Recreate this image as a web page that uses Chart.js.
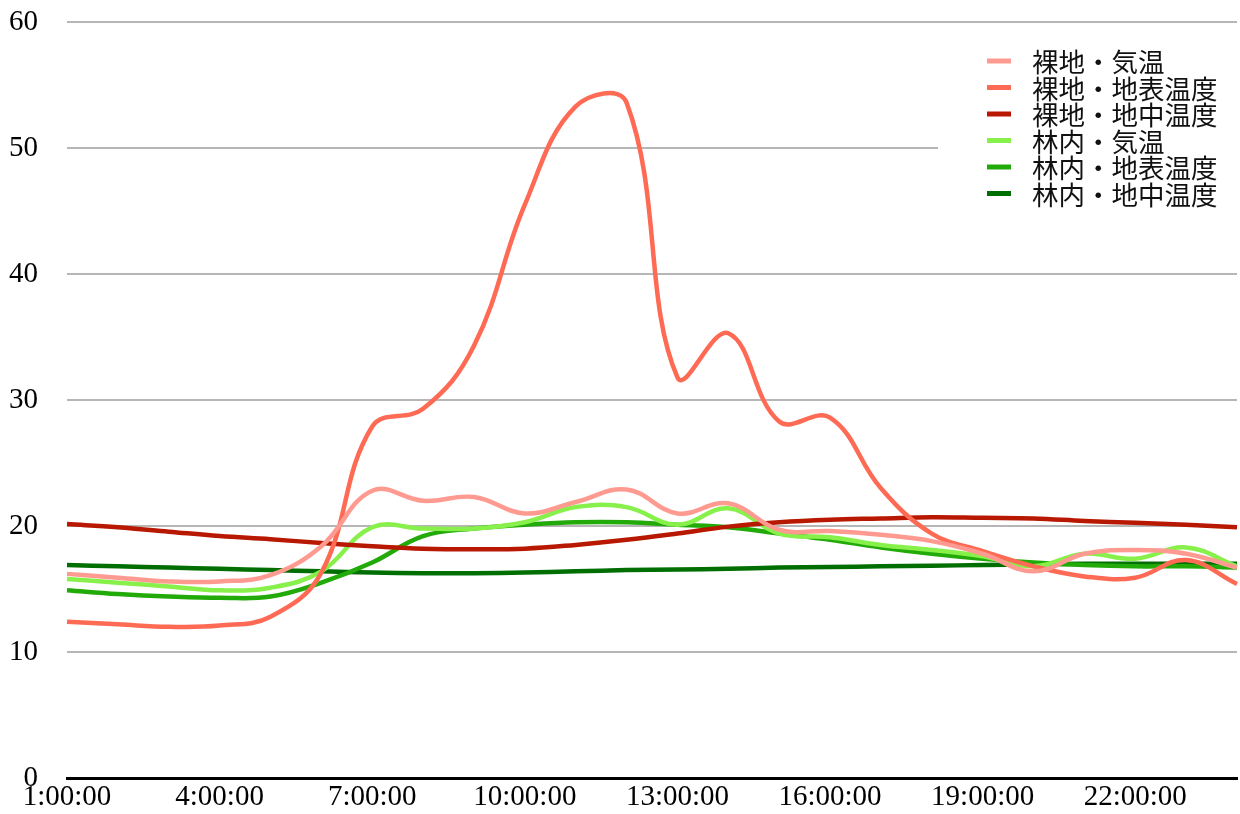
<!DOCTYPE html>
<html lang="ja">
<head>
<meta charset="UTF-8">
<title>裸地と林内の温度</title>
<script src="https://cdn.jsdelivr.net/npm/chart.js@4.4.1/dist/chart.umd.min.js"></script>
<style>
  html, body { margin: 0; padding: 0; background: #fff; }
  #wrap { width: 1240px; height: 814px; }
</style>
</head>
<body>
<div id="wrap"><canvas id="chart1" width="1240" height="814"></canvas></div>
<script>
// hourly readings
var hours = ['1:00:00','2:00:00','3:00:00','4:00:00','5:00:00','6:00:00','7:00:00','8:00:00',
             '9:00:00','10:00:00','11:00:00','12:00:00','13:00:00','14:00:00','15:00:00','16:00:00',
             '17:00:00','18:00:00','19:00:00','20:00:00','21:00:00','22:00:00','23:00:00','0:00:00'];

var bareAir     = [16.2, 15.9, 15.6, 15.6, 16.1, 18.4, 22.8, 22.0, 22.3, 21.0, 21.9, 22.9,
                   21.0, 21.8, 19.7, 19.6, 19.3, 18.8, 17.8, 16.4, 17.8, 18.1, 17.8, 16.7];
var bareSurface = [12.4, 12.2, 12.0, 12.1, 12.8, 16.3, 27.9, 29.3, 34.3, 45.5, 53.3, 53.6,
                   31.8, 35.3, 28.3, 28.6, 23.0, 19.4, 18.0, 16.8, 16.0, 15.9, 17.3, 15.4];
var bareSoil    = [20.15, 19.9, 19.55, 19.2, 18.95, 18.65, 18.4, 18.2, 18.15, 18.2, 18.5, 18.9,
                   19.4, 19.95, 20.3, 20.5, 20.6, 20.7, 20.65, 20.6, 20.4, 20.25, 20.1, 19.9];
var forestAir     = [15.8, 15.5, 15.2, 14.9, 15.1, 16.4, 19.9, 19.8, 19.8, 20.3, 21.5, 21.5,
                     20.1, 21.4, 19.4, 19.1, 18.5, 18.1, 17.6, 16.8, 17.8, 17.4, 18.3, 16.8];
var forestSurface = [14.9, 14.6, 14.4, 14.3, 14.4, 15.5, 17.1, 19.2, 19.8, 20.1, 20.3, 20.3,
                     20.1, 19.9, 19.4, 18.9, 18.3, 17.8, 17.4, 17.1, 16.9, 16.8, 16.8, 16.7];
var forestSoil    = [16.9, 16.8, 16.7, 16.6, 16.5, 16.4, 16.3, 16.25, 16.25, 16.3, 16.4, 16.5,
                     16.55, 16.6, 16.7, 16.75, 16.8, 16.85, 16.9, 16.95, 17.0, 17.0, 17.0, 17.0];

var seriesNames  = ['裸地・気温','裸地・地表温度','裸地・地中温度','林内・気温','林内・地表温度','林内・地中温度'];
var seriesData   = [bareAir, bareSurface, bareSoil, forestAir, forestSurface, forestSoil];
var seriesColors = ['#ff9a90','#ff6a55','#b81800','#88f04a','#22aa08','#006e00'];

var serif = '"Liberation Serif", "DejaVu Serif", serif';

// legend drawn inside the plot, on a white box
var boxLegend = {
  id: 'boxLegend',
  afterDraw: function (chart) {
    var c = chart.ctx;
    c.save();
    c.fillStyle = '#fff';
    c.fillRect(938, 38, 302, 178);
    c.font = '26.5px "Noto Sans CJK JP", sans-serif';
    c.textBaseline = 'middle';
    c.textAlign = 'left';
    chart.data.datasets.forEach(function (ds, i) {
      var y = 61 + i * 26.5;
      c.strokeStyle = ds.borderColor;
      c.lineWidth = 5;
      c.beginPath();
      c.moveTo(987, y);
      c.lineTo(1011, y);
      c.stroke();
      c.fillStyle = '#111';
      c.fillText(ds.label, 1032, y + 1);
    });
    c.restore();
  }
};

var ds = [];
for (var i = 0; i < seriesNames.length; i++) {
  ds.push({
    label: seriesNames[i],
    data: seriesData[i],
    borderColor: seriesColors[i],
    backgroundColor: seriesColors[i],
    borderWidth: 4.5,
    pointRadius: 0,
    tension: 0.4,
    fill: false
  });
}

function noOverflow(s) {
  s.paddingTop = 0; s.paddingBottom = 0;
  s.paddingLeft = 0; s.paddingRight = 0;
}

var ctx1 = document.getElementById('chart1').getContext('2d');
var myChart = new Chart(ctx1, {
  type: 'line',
  data: { labels: hours, datasets: ds },
  options: {
    responsive: false,
    animation: false,
    layout: { padding: { top: 22, right: 3, left: 0, bottom: 0 } },
    plugins: {
      legend: { display: false },
      tooltip: { enabled: false }
    },
    scales: {
      x: {
        grid: { display: false, drawTicks: false },
        border: { display: true, color: '#000', width: 3 },
        ticks: {
          autoSkip: false,
          maxRotation: 0,
          padding: 2,
          color: '#000',
          font: { family: serif, size: 29 },
          callback: function (v, idx) { return idx % 3 == 0 ? hours[idx] : ''; }
        },
        afterFit: function (s) { s.height = 36; noOverflow(s); }
      },
      y: {
        min: 0,
        max: 60,
        grid: {
          drawTicks: false,
          lineWidth: 2,
          color: function (c) { return c.tick && c.tick.value === 0 ? 'rgba(0,0,0,0)' : '#b6b6b6'; }
        },
        border: { display: false },
        ticks: {
          stepSize: 10,
          padding: 29,
          color: '#000',
          font: { family: serif, size: 29 }
        },
        afterFit: function (s) { s.width = 67; noOverflow(s); }
      }
    }
  },
  plugins: [boxLegend]
});
</script>
</body>
</html>
